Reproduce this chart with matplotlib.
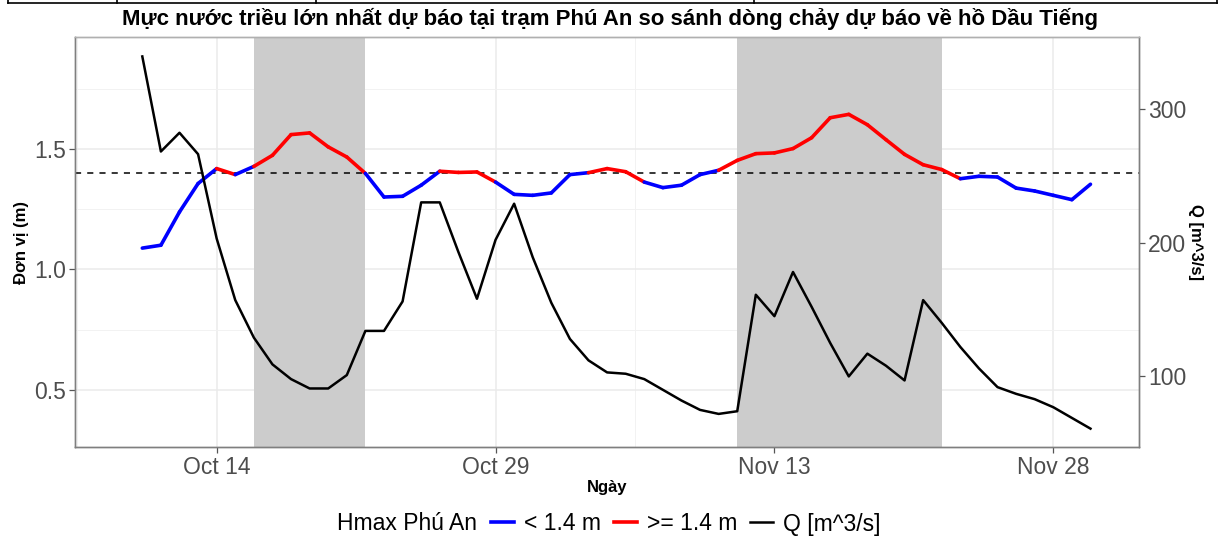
import numpy as np
import pandas as pd
import matplotlib
matplotlib.use("Agg")
import matplotlib.pyplot as plt
import matplotlib.dates as mdates
from matplotlib.collections import LineCollection
from matplotlib.lines import Line2D

plt.rcParams['font.family'] = ['Liberation Sans', 'DejaVu Sans']

# --- DONNEES ---
dates = pd.date_range('2020-10-10', '2020-11-30', freq='D')

hmax = [1.088, 1.100, 1.238, 1.356, 1.418, 1.393, 1.427, 1.473, 1.559, 1.566,
        1.508, 1.466, 1.398, 1.300, 1.303, 1.349, 1.407, 1.402, 1.404, 1.362,
        1.311, 1.307, 1.317, 1.393, 1.401, 1.418, 1.405, 1.362, 1.339, 1.349,
        1.393, 1.411, 1.452, 1.480, 1.483, 1.501, 1.546, 1.629, 1.643, 1.600,
        1.538, 1.477, 1.434, 1.414, 1.376, 1.386, 1.383, 1.337, 1.325, 1.307,
        1.289, 1.353]

q_flow = [339, 268, 282, 266, 203, 157, 129, 109, 98, 91,
          91, 101, 134, 134, 156, 230, 230, 193, 158, 202,
          229, 189, 155, 128, 112, 103, 102, 98, 90, 82,
          75, 72, 74, 161, 145, 178, 152, 125, 100, 117,
          108, 97, 157, 140, 122, 106, 92, 87, 83, 77,
          69, 61]

periods = [('2020-10-16', '2020-10-22'), ('2020-11-11', '2020-11-22')]
threshold = 1.4
q_scale = 180  # Q = H * 180 (axe secondaire)

tick_dates = ['2020-10-14', '2020-10-29', '2020-11-13', '2020-11-28']

W, H = 1219, 540
fig = plt.figure(figsize=(W / 100, H / 100), dpi=100)
ax = fig.add_axes([75 / W, 1 - 447 / H, (1139 - 75) / W, (447 - 37) / H])

x = mdates.date2num(dates)
d0 = x[0]
ylo, yhi = 0.2627, 1.964

# periodes grisees
for a, b in periods:
    ax.axvspan(mdates.date2num(pd.Timestamp(a)), mdates.date2num(pd.Timestamp(b)),
               color='#CCCCCC', lw=0, zorder=1)

ax.axhline(threshold, color='black', linestyle=(0, (4, 4)), linewidth=1.1, zorder=2)

# ligne Hmax coloree selon le seuil
pts = np.column_stack([x, hmax])
segs = [[pts[i], pts[i + 1]] for i in range(len(pts) - 1)]
cols = ['#FF0000' if hmax[i] >= threshold else '#0000FF' for i in range(len(pts) - 1)]
lc = LineCollection(segs, colors=cols, linewidths=2.6, capstyle='round', zorder=3)
ax.add_collection(lc)

# axe secondaire Q
ax2 = ax.twinx()
ax2.plot(x, q_flow, color='black', linewidth=1.8, zorder=4)
ax2.set_yticks([100, 200, 300])

# grille
ax.set_axisbelow(True)
ax.set_yticks([0.5, 1.0, 1.5])
ax.set_yticks([0.75, 1.25, 1.75], minor=True)
ax.set_yticklabels(['0.5', '1.0', '1.5'])
xt = mdates.date2num(pd.to_datetime(tick_dates))
ax.set_xticks(xt)
ax.set_xticklabels([pd.Timestamp(t).strftime('%b %d') for t in tick_dates])
ax.set_xticks(np.concatenate([[xt[0] - 7.5], (xt[:-1] + xt[1:]) / 2]), minor=True)
ax.grid(which='major', color='#EBEBEB', linewidth=1.1)
ax.grid(which='minor', color='#F2F2F2', linewidth=0.7)

# limites fixees a la fin (set_xticks elargit la vue)
ax.set_xlim(d0 - 3.62, d0 + 53.61)
ax.set_ylim(ylo, yhi)
ax2.set_ylim(ylo * q_scale, yhi * q_scale)

tick_col = '#4D4D4D'
for a_ in (ax, ax2):
    a_.tick_params(which='major', length=4, width=0.9, color='#555555',
                   labelsize=16.5, labelcolor=tick_col, pad=2.5)
    a_.tick_params(which='minor', length=0)
    for s in a_.spines.values():
        s.set_color('#7F7F7F')
        s.set_linewidth(1.0)
    a_.spines['top'].set_color('#B0B0B0')

ax.set_ylabel('Đơn vị (m)', fontsize=12, fontweight='bold', labelpad=4)
ax2.set_ylabel('Q [m^3/s]', fontsize=12, fontweight='bold', rotation=270, labelpad=12)
ax.set_xlabel('Ngày', fontsize=12, fontweight='bold', labelpad=1)

fig.text(0.5, 1 - 19 / H, 'Mực nước triều lớn nhất dự báo tại trạm Phú An so sánh dòng chảy dự báo về hồ Dầu Tiếng',
         ha='center', va='center', fontsize=16, fontweight='bold')

# legende
handles = [Line2D([], [], color='#0000FF', lw=2.6),
           Line2D([], [], color='#FF0000', lw=2.6),
           Line2D([], [], color='black', lw=1.8)]
labels = ['< 1.4 m', '>= 1.4 m', 'Q [m^3/s]']
fig.legend(handles, labels, ncol=3, frameon=False, loc='center',
           bbox_to_anchor=(686 / W, 1 - 524 / H), fontsize=16.5,
           handlelength=1.0, handletextpad=0.45, columnspacing=0.55)
fig.text(337 / W, 1 - 524 / H, 'Hmax Phú An', ha='left', va='center', fontsize=16.5)

# bordure du tableau en haut
fig.add_artist(Line2D([8 / W, 1217 / W], [1 - 3 / H, 1 - 3 / H], color='black', lw=1.2))
for xv in (8, 117, 316, 754, 1217):
    fig.add_artist(Line2D([xv / W, xv / W], [1, 1 - 3 / H], color='black', lw=1.2))

fig.savefig('out.png', dpi=100)
